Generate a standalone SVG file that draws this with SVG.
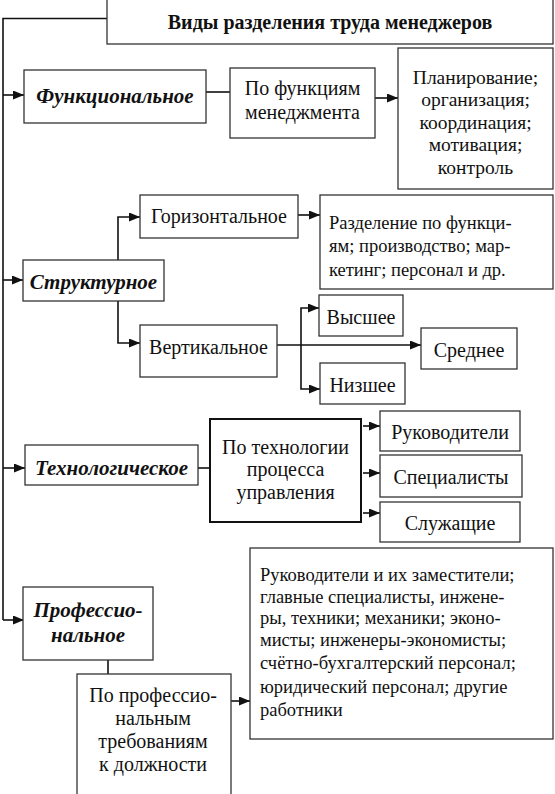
<svg xmlns="http://www.w3.org/2000/svg" width="555" height="794" viewBox="0 0 555 794" font-family="'Liberation Serif', 'DejaVu Serif', serif">
<style>
.box{fill:#fff;stroke:#333;stroke-width:1.3}
.thick{fill:#fff;stroke:#111;stroke-width:2}
.t{font-size:20px;fill:#111}
.s{font-size:18.5px}
.p{font-size:19.5px}
.c{text-anchor:middle}
.bi{font-weight:bold;font-style:italic;font-size:21px}
.b{font-weight:bold}
.ln{fill:none;stroke:#111;stroke-width:1.6}
.ar{marker-end:url(#ah)}
</style>
<defs>
<marker id="ah" markerUnits="userSpaceOnUse" markerWidth="11" markerHeight="9" refX="11" refY="4.5" orient="auto">
<path d="M0,0 L11,4.5 L0,9 z" fill="#111"/>
</marker>
</defs>
<rect width="555" height="794" fill="#fff"/>
<g id="connectors">
<path class="ln" d="M107,18.5 H3 V620"/>
<path class="ln ar" d="M3,95 H24"/>
<path class="ln ar" d="M3,280 H23"/>
<path class="ln ar" d="M3,468 H25"/>
<path class="ln ar" d="M3,620 H24"/>
<path class="ln" d="M206,92 H230"/>
<path class="ln ar" d="M375,98 H398"/>
<path class="ln ar" d="M118,260 V217 H140"/>
<path class="ln ar" d="M118,301 V343 H140"/>
<path class="ln ar" d="M298,215 H320"/>
<path class="ln ar" d="M277,345 H421"/>
<path class="ln ar" d="M301,345 V308 H319"/>
<path class="ln ar" d="M301,345 V389 H320"/>
<path class="ln" d="M198,468 H210"/>
<path class="ln ar" d="M363,426 H380"/>
<path class="ln ar" d="M363,473 H380"/>
<path class="ln ar" d="M363,513 H380"/>
<path class="ln" d="M108,660 V674"/>
<path class="ln ar" d="M231,701 H250"/>
</g>
<g id="title">
<rect class="box" x="107" y="-2" width="446" height="46"/>
<text class="t c b" x="330" y="29">Виды разделения труда менеджеров</text>
</g>
<g id="functional">
<rect class="box" x="24" y="70" width="182" height="53"/>
<text class="t c bi" x="115" y="103">Функциональное</text>
</g>
<g id="by-functions">
<rect class="box" x="230" y="68" width="145" height="70"/>
<text class="t c" x="302.5" y="95">По функциям</text>
<text class="t c" x="302.5" y="119">менеджмента</text>
</g>
<g id="planning">
<rect class="box" x="398" y="48" width="155" height="141"/>
<text class="t c p" x="475.5" y="84">Планирование;</text>
<text class="t c p" x="475.5" y="106">организация;</text>
<text class="t c p" x="475.5" y="129">координация;</text>
<text class="t c p" x="475.5" y="151">мотивация;</text>
<text class="t c p" x="475.5" y="174">контроль</text>
</g>
<g id="structural">
<rect class="box" x="23" y="260" width="141" height="41"/>
<text class="t c bi" x="93.5" y="289">Структурное</text>
</g>
<g id="horizontal">
<rect class="box" x="140" y="195" width="158" height="43"/>
<text class="t c" x="219" y="223">Горизонтальное</text>
</g>
<g id="horizontal-desc">
<rect class="box" x="320" y="195" width="233" height="94"/>
<text class="t s" x="329" y="229">Разделение по функци-</text>
<text class="t s" x="329" y="252">ям; производство; мар-</text>
<text class="t s" x="329" y="276">кетинг; персонал и др.</text>
</g>
<g id="vertical">
<rect class="box" x="140" y="325" width="137" height="52"/>
<text class="t c" x="208.5" y="354">Вертикальное</text>
</g>
<g id="higher">
<rect class="box" x="319" y="295" width="84" height="41"/>
<text class="t c" x="361" y="324">Высшее</text>
</g>
<g id="middle">
<rect class="box" x="421" y="328" width="96" height="41"/>
<text class="t c" x="469" y="357">Среднее</text>
</g>
<g id="lower">
<rect class="box" x="320" y="363" width="85" height="41"/>
<text class="t c" x="362.5" y="392">Низшее</text>
</g>
<g id="technological">
<rect class="box" x="25" y="445" width="173" height="40"/>
<text class="t c bi" x="111.5" y="475">Технологическое</text>
</g>
<g id="by-technology">
<rect class="thick" x="210" y="419" width="151" height="103"/>
<text class="t c" x="285.5" y="454">По технологии</text>
<text class="t c" x="285.5" y="476">процесса</text>
<text class="t c" x="285.5" y="499">управления</text>
</g>
<g id="managers">
<rect class="box" x="380" y="411" width="140" height="40"/>
<text class="t c" x="450" y="439">Руководители</text>
</g>
<g id="specialists">
<rect class="box" x="380" y="455" width="142" height="42"/>
<text class="t c" x="451" y="484">Специалисты</text>
</g>
<g id="employees">
<rect class="box" x="380" y="502" width="140" height="40"/>
<text class="t c" x="450" y="530">Служащие</text>
</g>
<g id="professional">
<rect class="box" x="23" y="587" width="130" height="73"/>
<text class="t c bi" x="88" y="617">Профессио-</text>
<text class="t c bi" x="88" y="642">нальное</text>
</g>
<g id="by-professional">
<rect class="box" x="77" y="674" width="154" height="122"/>
<text class="t c" x="153" y="702">По профессио-</text>
<text class="t c" x="153" y="725">нальным</text>
<text class="t c" x="153" y="748">требованиям</text>
<text class="t c" x="153" y="771">к должности</text>
</g>
<g id="professional-desc">
<rect class="box" x="250" y="548" width="303" height="191"/>
<text class="t s" x="260" y="581">Руководители и их заместители;</text>
<text class="t s" x="260" y="603">главные специалисты, инжене-</text>
<text class="t s" x="260" y="624">ры, техники; механики; эконо-</text>
<text class="t s" x="260" y="646">мисты; инженеры-экономисты;</text>
<text class="t s" x="260" y="669">счётно-бухгалтерский персонал;</text>
<text class="t s" x="260" y="693">юридический персонал; другие</text>
<text class="t s" x="260" y="716">работники</text>
</g>
</svg>
